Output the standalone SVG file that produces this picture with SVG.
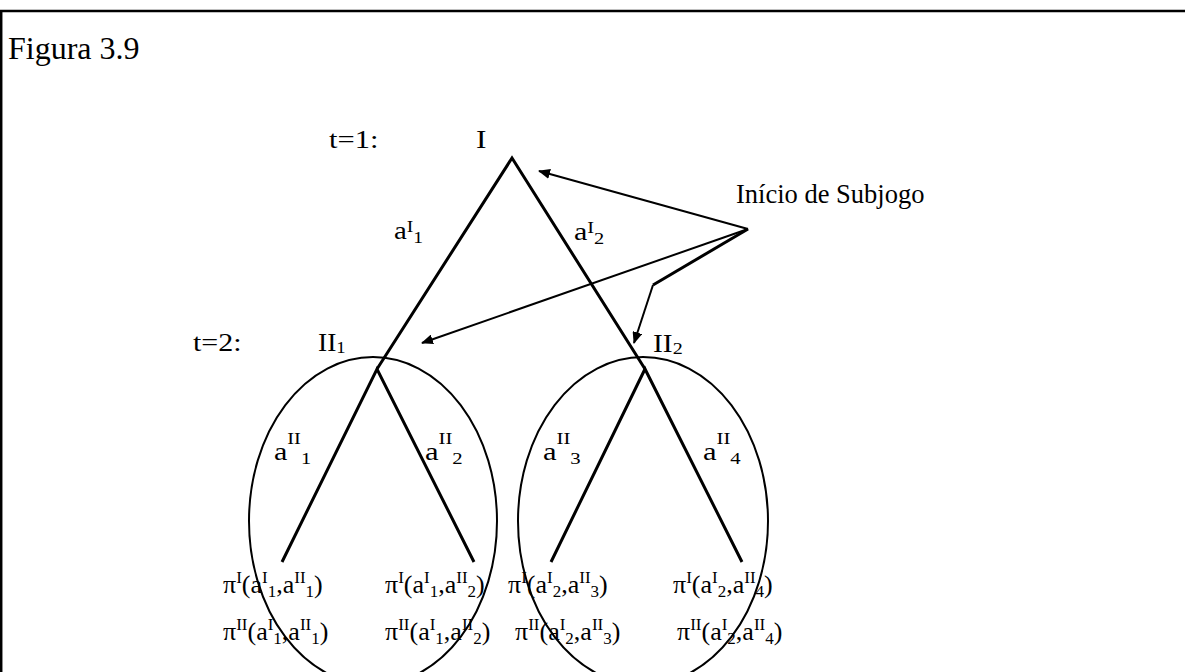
<svg xmlns="http://www.w3.org/2000/svg" width="1185" height="672" viewBox="0 0 1185 672">
<style>
text{font-family:"Liberation Serif","Times New Roman",serif;fill:#000}
.m{font-size:25px}
.p{font-size:26px}
.s{font-size:17px}
.t{font-size:32px}
.c{font-size:26.5px}
.br{stroke:#000;stroke-width:3;fill:none;stroke-linecap:butt}
.el{stroke:#000;stroke-width:2;fill:none}
.ar{stroke:#000;stroke-width:2;fill:none}
.fr{stroke:#000;stroke-width:2.5;fill:none}
</style>
<defs>
<marker id="ah" viewBox="0 0 12 10" refX="11" refY="5" markerWidth="12" markerHeight="10" markerUnits="userSpaceOnUse" orient="auto">
<path d="M0,0 L12,5 L0,10 Z" fill="#000"/>
</marker>
</defs>
<rect width="1185" height="672" fill="#fff"/>
<g id="frame">
<path class="fr" d="M0,11 H1185 M1.2,11 V672"/>
</g>
<text id="title" class="t" x="8" y="59">Figura 3.9</text>
<g id="stage-labels">
<text class="m" transform="translate(329,0) scale(1.22,1)" y="148">t=1:</text>
<text class="m" transform="translate(193,0) scale(1.2,1)" y="351">t=2:</text>
</g>
<g id="subgame-II1">
<ellipse class="el" cx="373" cy="521" rx="124" ry="164"/>
</g>
<g id="subgame-II2">
<ellipse class="el" cx="643" cy="521" rx="125" ry="164"/>
</g>
<g id="connectors">
<path class="br" d="M377,369 L512,158 L645,369"/>
<path class="br" d="M282,562 L377,369 L474,562"/>
<path class="br" d="M551,562 L645,369 L742,562"/>
<path class="ar" d="M748,229 L539,171" marker-end="url(#ah)"/>
<path class="ar" d="M748,229 L422,343" marker-end="url(#ah)"/>
<path class="ar" d="M748,229 L653,285" style="stroke-width:3"/>
<path class="ar" d="M653,285 L634,343" marker-end="url(#ah)"/>
</g>
<g id="node-I">
<text class="m" transform="translate(476,0) scale(1.25,1)" y="148">I</text>
</g>
<g id="node-II1">
<text class="m" transform="translate(318,0) scale(1.1,1)" y="351">II<tspan class="s" y="353">1</tspan></text>
</g>
<g id="node-II2">
<text class="m" transform="translate(653,0) scale(1.18,1)" y="352">II<tspan class="s" y="354">2</tspan></text>
</g>
<g id="callout">
<text class="c" x="736" y="203">Início de Subjogo</text>
</g>
<g id="action-labels">
<text class="m" transform="translate(394,0) scale(1.15,1)" y="239">a<tspan class="s" y="232">I</tspan><tspan class="s" y="243">1</tspan></text>
<text class="m" transform="translate(574,0) scale(1.2,1)" y="240">a<tspan class="s" y="233">I</tspan><tspan class="s" y="244">2</tspan></text>
<text class="m" transform="translate(274,0) scale(1.2,1)" y="460">a<tspan class="s" y="444">II</tspan><tspan class="s" y="464">1</tspan></text>
<text class="m" transform="translate(425,0) scale(1.22,1)" y="460">a<tspan class="s" y="444">II</tspan><tspan class="s" y="464">2</tspan></text>
<text class="m" transform="translate(543,0) scale(1.22,1)" y="460">a<tspan class="s" y="444">II</tspan><tspan class="s" y="464">3</tspan></text>
<text class="m" transform="translate(703,0) scale(1.22,1)" y="460">a<tspan class="s" y="444">II</tspan><tspan class="s" y="464">4</tspan></text>
</g>
<g id="payoffs">
<text class="p" x="223" y="593">π<tspan class="s" y="583">I</tspan><tspan y="593">(a</tspan><tspan class="s" y="583">I</tspan><tspan class="s" y="597">1</tspan><tspan y="593">,a</tspan><tspan class="s" y="583">II</tspan><tspan class="s" y="597">1</tspan><tspan y="593">)</tspan></text>
<text class="p" x="385" y="593">π<tspan class="s" y="583">I</tspan><tspan y="593">(a</tspan><tspan class="s" y="583">I</tspan><tspan class="s" y="597">1</tspan><tspan y="593">,a</tspan><tspan class="s" y="583">II</tspan><tspan class="s" y="597">2</tspan><tspan y="593">)</tspan></text>
<text class="p" x="508" y="593">π<tspan class="s" y="583">I</tspan><tspan y="593">(a</tspan><tspan class="s" y="583">I</tspan><tspan class="s" y="597">2</tspan><tspan y="593">,a</tspan><tspan class="s" y="583">II</tspan><tspan class="s" y="597">3</tspan><tspan y="593">)</tspan></text>
<text class="p" x="673" y="593">π<tspan class="s" y="583">I</tspan><tspan y="593">(a</tspan><tspan class="s" y="583">I</tspan><tspan class="s" y="597">2</tspan><tspan y="593">,a</tspan><tspan class="s" y="583">II</tspan><tspan class="s" y="597">4</tspan><tspan y="593">)</tspan></text>
<text class="p" x="223" y="640">π<tspan class="s" y="630">II</tspan><tspan y="640">(a</tspan><tspan class="s" y="630">I</tspan><tspan class="s" y="644">1</tspan><tspan y="640">,a</tspan><tspan class="s" y="630">II</tspan><tspan class="s" y="644">1</tspan><tspan y="640">)</tspan></text>
<text class="p" x="385" y="640">π<tspan class="s" y="630">II</tspan><tspan y="640">(a</tspan><tspan class="s" y="630">I</tspan><tspan class="s" y="644">1</tspan><tspan y="640">,a</tspan><tspan class="s" y="630">II</tspan><tspan class="s" y="644">2</tspan><tspan y="640">)</tspan></text>
<text class="p" x="515" y="640">π<tspan class="s" y="630">II</tspan><tspan y="640">(a</tspan><tspan class="s" y="630">I</tspan><tspan class="s" y="644">2</tspan><tspan y="640">,a</tspan><tspan class="s" y="630">II</tspan><tspan class="s" y="644">3</tspan><tspan y="640">)</tspan></text>
<text class="p" x="677" y="640">π<tspan class="s" y="630">II</tspan><tspan y="640">(a</tspan><tspan class="s" y="630">I</tspan><tspan class="s" y="644">2</tspan><tspan y="640">,a</tspan><tspan class="s" y="630">II</tspan><tspan class="s" y="644">4</tspan><tspan y="640">)</tspan></text>
</g>
</svg>
